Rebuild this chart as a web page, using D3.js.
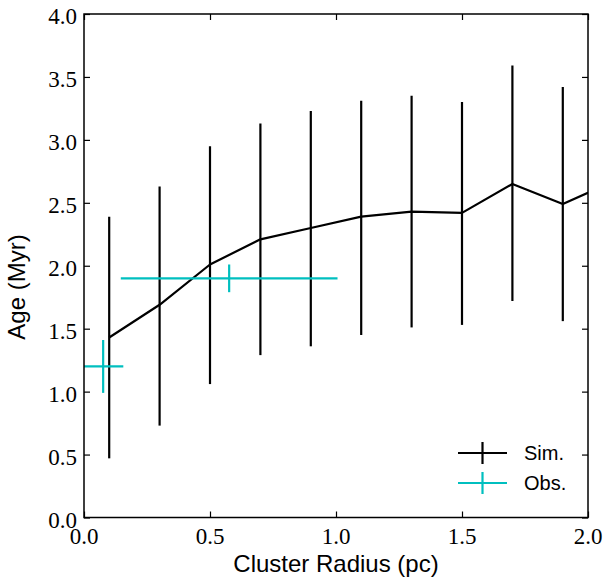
<!DOCTYPE html>
<html>
<head>
<meta charset="utf-8">
<script src="https://cdn.jsdelivr.net/npm/d3@7"></script>
<style>
html,body{margin:0;padding:0;background:#fff;}
svg{display:block;}
</style>
</head>
<body>
<svg id="chart" width="606" height="584"></svg>
<script>
// ---- data ----
const simRadius = [0.1, 0.3, 0.5, 0.7, 0.9, 1.1, 1.3, 1.5, 1.7, 1.9, 2.1];
const simAge    = [1.43, 1.69, 2.01, 2.21, 2.30, 2.39, 2.43, 2.42, 2.65, 2.49, 2.67];
const simAgeHi  = [2.39, 2.63, 2.95, 3.13, 3.23, 3.31, 3.35, 3.30, 3.59, 3.42, 3.60];
const simAgeLo  = [0.47, 0.73, 1.06, 1.29, 1.36, 1.45, 1.51, 1.53, 1.72, 1.56, 1.74];

const obsRadius    = [0.076, 0.576];
const obsRadiusErr = [0.08, 0.43];
const obsAge       = [1.20, 1.90];
const obsAgeErr    = [0.21, 0.11];

const xTicks = [0.0, 0.5, 1.0, 1.5, 2.0];
const yTicks = [0.0, 0.5, 1.0, 1.5, 2.0, 2.5, 3.0, 3.5, 4.0];
const legendLabels = ["Sim.", "Obs."];
const xTitle = "Cluster Radius (pc)";
const yTitle = "Age (Myr)";

// ---- layout ----
const svg = d3.select("#chart");
const mL = 84, mR = 588, mT = 14, mB = 517.5;
const simColor = "#000000", obsColor = "#00bfbf";
const serifFont = '"Liberation Serif"';
const sansFont = '"Liberation Sans"';

const x = d3.scaleLinear().domain([0, 2]).range([mL, mR]);
const y = d3.scaleLinear().domain([0, 4]).range([mB, mT]);

svg.append("defs").append("clipPath").attr("id", "clip")
  .append("rect").attr("x", mL).attr("y", mT)
  .attr("width", mR - mL).attr("height", mB - mT);

const plot = svg.append("g").attr("clip-path", "url(#clip)");

// simulation error bars
const sim = simRadius.map((r, i) => ({r, a: simAge[i], lo: simAgeLo[i], hi: simAgeHi[i]}));
plot.selectAll("line.simerr").data(sim).enter().append("line")
  .attr("class", "simerr")
  .attr("x1", d => x(d.r)).attr("x2", d => x(d.r))
  .attr("y1", d => y(d.lo)).attr("y2", d => y(d.hi))
  .attr("stroke", simColor).attr("stroke-width", 2.2);

// simulation line
plot.append("path").datum(sim)
  .attr("d", d3.line().x(d => x(d.r)).y(d => y(d.a)))
  .attr("fill", "none").attr("stroke", simColor).attr("stroke-width", 2.2)
  .attr("stroke-linejoin", "round");

// observations
const obs = obsRadius.map((r, i) => ({r, re: obsRadiusErr[i], a: obsAge[i], ae: obsAgeErr[i]}));
const og = plot.selectAll("g.obs").data(obs).enter().append("g").attr("class", "obs");
og.append("line")
  .attr("x1", d => x(d.r - d.re)).attr("x2", d => x(d.r + d.re))
  .attr("y1", d => y(d.a)).attr("y2", d => y(d.a))
  .attr("stroke", obsColor).attr("stroke-width", 2.2);
og.append("line")
  .attr("x1", d => x(d.r)).attr("x2", d => x(d.r))
  .attr("y1", d => y(d.a - d.ae)).attr("y2", d => y(d.a + d.ae))
  .attr("stroke", obsColor).attr("stroke-width", 2.2);

// ---- axes (ticks only; labels drawn as separate text) ----
const fmt = d3.format(".1f");
const axG = svg.append("g");
function styleAxis(g) {
  g.select(".domain").remove();
  g.selectAll(".tick text").remove();
  g.selectAll(".tick line").attr("stroke", "#000").attr("stroke-width", 1.2);
}
axG.append("g").attr("transform", `translate(0,${mB})`)
  .call(d3.axisBottom(x).tickValues(xTicks).tickSizeInner(-6).tickSizeOuter(0)).call(styleAxis);
axG.append("g").attr("transform", `translate(0,${mT})`)
  .call(d3.axisTop(x).tickValues(xTicks).tickSizeInner(-6).tickSizeOuter(0)).call(styleAxis);
axG.append("g").attr("transform", `translate(${mL},0)`)
  .call(d3.axisLeft(y).tickValues(yTicks).tickSizeInner(-6).tickSizeOuter(0)).call(styleAxis);
axG.append("g").attr("transform", `translate(${mR},0)`)
  .call(d3.axisRight(y).tickValues(yTicks).tickSizeInner(-6).tickSizeOuter(0)).call(styleAxis);

// tick labels
svg.append("g").selectAll("text").data(xTicks).enter().append("text")
  .attr("x", d => x(d)).attr("y", mB + 26).attr("text-anchor", "middle")
  .style("font-family", serifFont).style("font-size", "23px").style("fill", "#000")
  .text(d => fmt(d));
svg.append("g").selectAll("text").data(yTicks).enter().append("text")
  .attr("x", mL - 7).attr("y", d => y(d) + 10).attr("text-anchor", "end")
  .style("font-family", serifFont).style("font-size", "23px").style("fill", "#000")
  .text(d => fmt(d));

// frame
svg.append("rect").attr("x", mL).attr("y", mT)
  .attr("width", mR - mL).attr("height", mB - mT)
  .attr("fill", "none").attr("stroke", "#000").attr("stroke-width", 1.5);

// axis titles
svg.append("text").attr("x", (mL + mR) / 2).attr("y", 572)
  .attr("text-anchor", "middle")
  .style("font-family", sansFont).style("font-size", "24px").style("fill", "#000")
  .text(xTitle);
svg.append("text").attr("transform", `translate(25,287) rotate(-90)`)
  .attr("text-anchor", "middle")
  .style("font-family", sansFont).style("font-size", "24px").style("fill", "#000")
  .text(yTitle);

// ---- legend ----
const legendColors = [simColor, obsColor];
const lg = svg.append("g").selectAll("g").data(legendLabels).enter().append("g")
  .attr("transform", (d, i) => `translate(482.5,${453 + i * 30})`);
lg.append("line").attr("x1", -24.5).attr("x2", 24.5).attr("y1", 0).attr("y2", 0)
  .attr("stroke", (d, i) => legendColors[i]).attr("stroke-width", 2.2);
lg.append("line").attr("x1", 0).attr("x2", 0).attr("y1", -11).attr("y2", 11)
  .attr("stroke", (d, i) => legendColors[i]).attr("stroke-width", 2.2);
lg.append("text").attr("x", 41.5).attr("y", 7)
  .style("font-family", sansFont).style("font-size", "20px").style("fill", "#000")
  .text(d => d);
</script>
</body>
</html>
